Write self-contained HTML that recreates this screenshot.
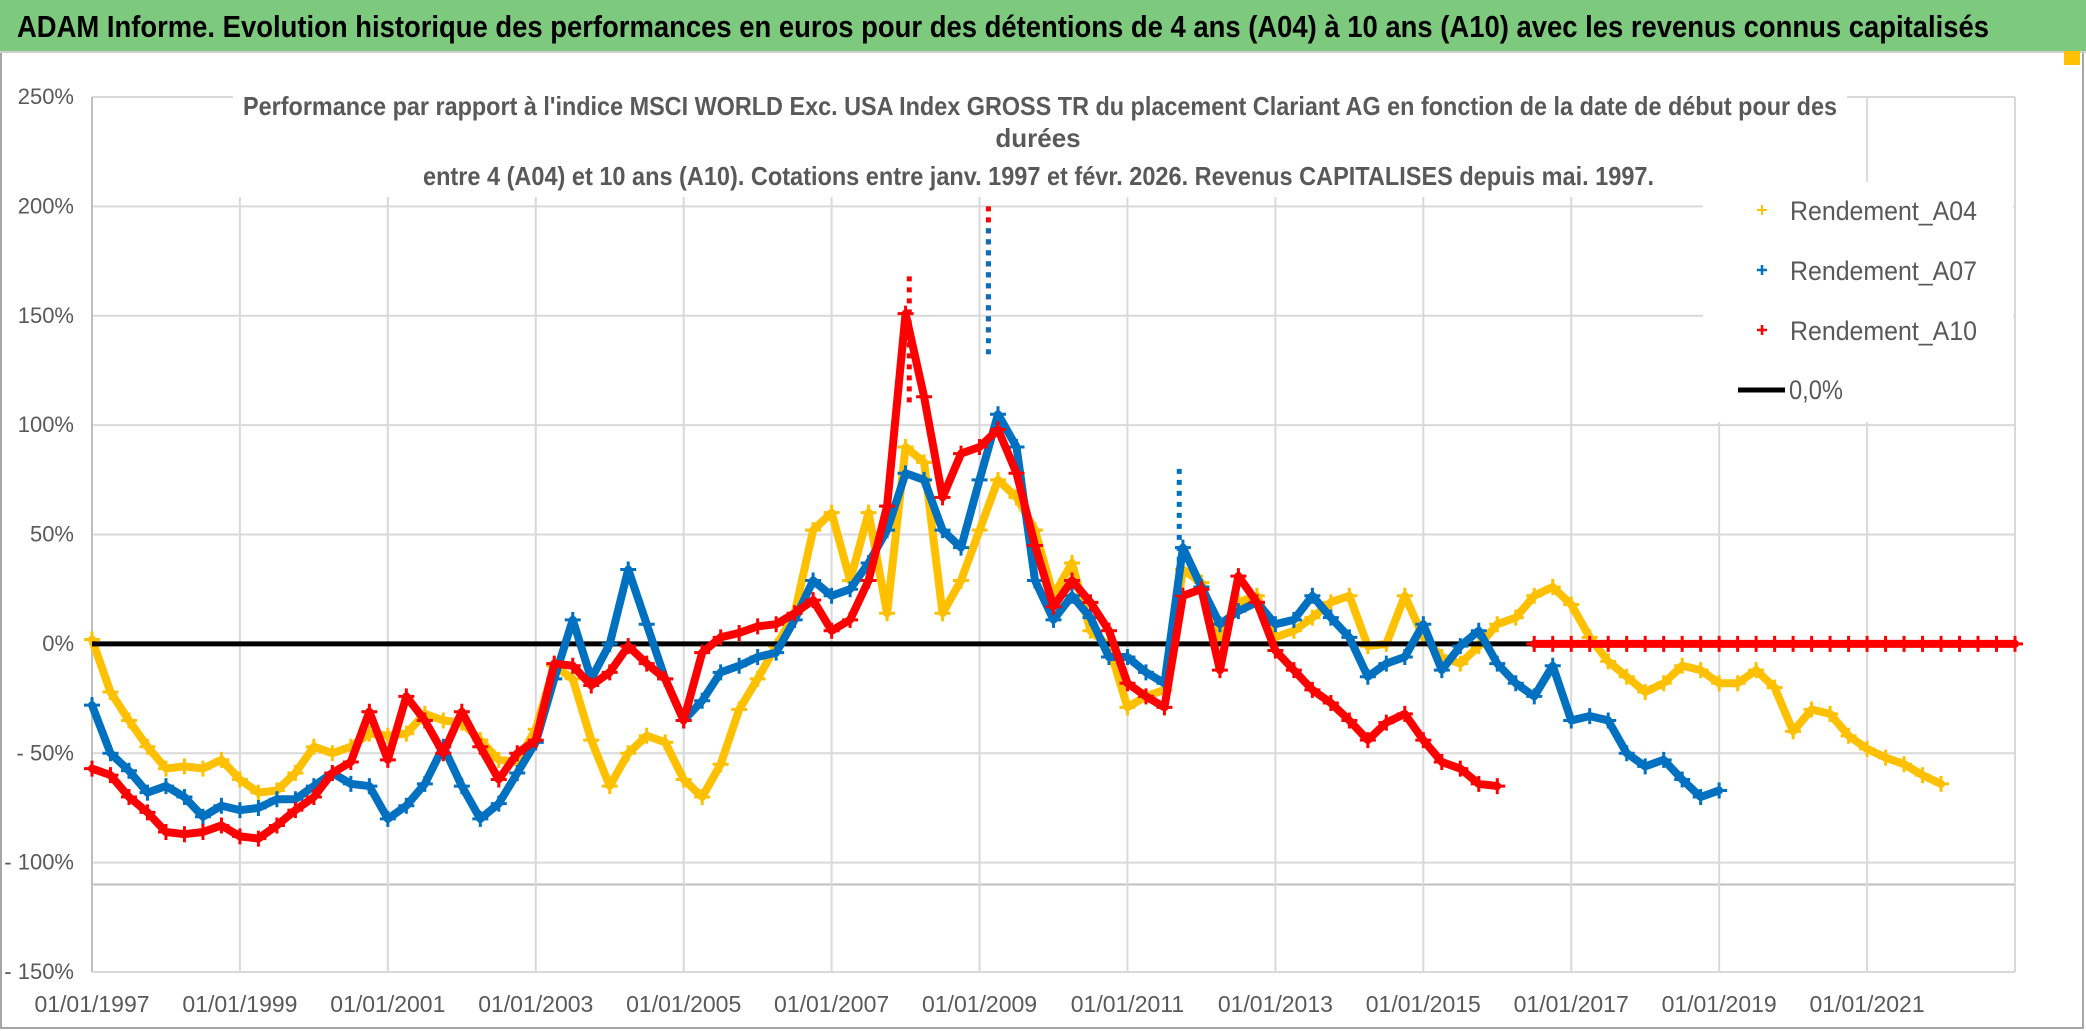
<!DOCTYPE html>
<html><head><meta charset="utf-8"><style>
html,body{margin:0;padding:0;background:#fff;}
svg{display:block;}
text{font-family:"Liberation Sans Narrow","Liberation Sans",sans-serif;}
</style></head><body>
<svg id="chart" width="2086" height="1031" viewBox="0 0 2086 1031">
<rect x="0" y="0" width="2086" height="1031" fill="#fff"/>
<rect x="1" y="1" width="2082" height="1027" fill="none" stroke="#a6a6a6" stroke-width="2"/>
<rect x="0" y="0" width="2086" height="51" fill="#7DC97D"/>
<line x1="0" y1="52" x2="2086" y2="52" stroke="#d0d0d0" stroke-width="2"/>
<rect x="2064" y="51" width="16" height="14" fill="#FFC000"/>
<text x="17" y="37" font-size="31" font-weight="bold" fill="#000" textLength="1972" lengthAdjust="spacingAndGlyphs">ADAM Informe. Evolution historique des performances en euros pour des détentions de 4 ans (A04) à 10 ans (A10) avec les revenus connus capitalisés</text>
<g id="grid"></g>
<g id="yaxis"></g>
<g id="xaxis"></g>
<g id="plot"></g>
<rect x="233" y="90" width="1614" height="107" fill="#fff"/>
<rect x="1703" y="182" width="310" height="240" fill="#fff"/>
<g fill="#595959" font-size="26" font-weight="bold">
<text x="243" y="115" textLength="1594" lengthAdjust="spacingAndGlyphs">Performance par rapport à l'indice MSCI WORLD Exc. USA Index GROSS TR  du placement Clariant AG en fonction de la date de début pour des</text>
<text x="1038" y="147" text-anchor="middle">durées</text>
<text x="423" y="185" textLength="1231" lengthAdjust="spacingAndGlyphs">entre 4 (A04) et 10 ans (A10). Cotations entre janv. 1997 et févr. 2026. Revenus CAPITALISES depuis mai. 1997.</text>
</g>
<g font-size="27" fill="#595959">
<g><path d="M1757 210h10M1762 205v10" stroke="#FFC000" stroke-width="2"/><text x="1790" y="220" textLength="187" lengthAdjust="spacingAndGlyphs">Rendement_A04</text></g>
<g><path d="M1757 270h10M1762 265v10" stroke="#0070C0" stroke-width="2.5"/><text x="1790" y="280" textLength="187" lengthAdjust="spacingAndGlyphs">Rendement_A07</text></g>
<g><path d="M1757 330h10M1762 325v10" stroke="#FF0000" stroke-width="2.5"/><text x="1790" y="340" textLength="187" lengthAdjust="spacingAndGlyphs">Rendement_A10</text></g>
<g><line x1="1738" y1="390" x2="1785" y2="390" stroke="#000" stroke-width="5"/><text x="1789" y="399" textLength="54" lengthAdjust="spacingAndGlyphs">0,0%</text></g>
</g>
</svg>
<script>
// Data: quarterly values (%) starting 1997.0, step 0.25 year
const startYear = 1997;
const stepYear = 0.25;
const a04 = [2,-22,-35,-47, -57,-56,-57,-53, -62,-68,-67,-59, -47,-50,-47,-41, -42,-41,-32,-35, -36,-44,-53,-54, -39,-10,-16,-44, -65,-50,-42,-45, -62,-70,-55,-30, -16,-1,14,52, 60,29,60,14, 90,83,14,29, 52,75,67,52, 22,37,6,-1, -29,-24,-21,34, 28,3,19,22, 3,6,12,19, 22,-1,0,22, 3,-6,-9,-1, 9,12,22,26, 18,3,-8,-15, -22,-18,-10,-12, -18,-18,-12,-20, -40,-30,-32,-42, -48,-52,-55,-60, -64];
const a07 = [-28,-50,-58,-68, -65,-70,-79,-74, -76,-75,-71,-71, -65,-59,-64,-65, -80,-74,-64,-47, -65,-80,-73,-59, -45,-16,11,-16, 0,34,9,-16, -35,-26,-13,-10, -6,-4,11,29, 22,25,37,52, 78,75,52,44, 75,105,90,29, 11,22,12,-6, -6,-13,-18,44, 26,9,15,19, 9,11,22,12, 3,-15,-9,-6, 9,-12,-1,6, -9,-18,-24,-10, -35,-33,-35,-50, -56,-53,-62,-70, -67];
const a10 = [-57,-60,-70,-77, -86,-87,-86,-83, -88,-89,-83,-76, -70,-59,-54,-31, -53,-24,-35,-50, -31,-47,-62,-50, -44,-9,-10,-19, -13,-1,-9,-16, -35,-4,3,5, 8,9,14,20, 6,11,29,63, 151,113,67,87, 90,98,78,45, 17,29,19,6, -18,-24,-29,22, 25,-12,31,19, -3,-12,-21,-27, -35,-44,-36,-32, -44,-54,-57,-64, -65,null,0,0, 0,0,0,0, 0,0,0,0, 0,0,0,0, 0,0,0,0, 0,0,0,0, 0,0,0,0, 0];
// Isolated spike points
const spikeYears = [2008.05, 2009.12, 2009.12, 2011.7];
const spikeValues = [168, 200, 190, 80];
const spikeSeries = ['a10','a10','a07','a07'];
const yTicks = [250,200,150,100,50,0,-50,-100,-150];
const yTickLabels = ['250%','200%','150%','100%','50%','0%','- 50%','- 100%','- 150%'];
const xTickYears = [1997,1999,2001,2003,2005,2007,2009,2011,2013,2015,2017,2019,2021];
const xTickLabels = ['01/01/1997','01/01/1999','01/01/2001','01/01/2003','01/01/2005','01/01/2007','01/01/2009','01/01/2011','01/01/2013','01/01/2015','01/01/2017','01/01/2019','01/01/2021'];

const NS='http://www.w3.org/2000/svg';
const X0=92, X1=2015, Y0=97, Y1=972;
const xMin=1997, xMax=2023, yMin=-150, yMax=250;
function xs(y){return X0+(y-xMin)/(xMax-xMin)*(X1-X0);}
function ys(v){return Y1-(v-yMin)/(yMax-yMin)*(Y1-Y0);}
function mk(tag,attrs,parent){const e=document.createElementNS(NS,tag);for(const k in attrs)e.setAttribute(k,attrs[k]);parent.appendChild(e);return e;}
const grid=document.getElementById('grid'),ya=document.getElementById('yaxis'),xa=document.getElementById('xaxis'),plot=document.getElementById('plot');

yTicks.forEach((v,i)=>{
  const l=mk('line',{x1:X0,x2:X1,y1:ys(v),y2:ys(v),stroke:'#d9d9d9','stroke-width':2},grid);
  
  
  const t=mk('text',{x:74,y:ys(v)+7,'text-anchor':'end','font-size':22,fill:'#595959'},ya);
  t.textContent=yTickLabels[i];
  
  
});
const ref=mk('line',{x1:X0,x2:X1,y1:ys(-110),y2:ys(-110),stroke:'#bfbfbf','stroke-width':2},grid);


xTickYears.forEach((yr,i)=>{
  const l=mk('line',{x1:xs(yr),x2:xs(yr),y1:Y0,y2:Y1,stroke:i==0?'#bfbfbf':'#d9d9d9','stroke-width':2},grid);
  
  
  const t=mk('text',{x:xs(yr),y:1012,'text-anchor':'middle','font-size':23,fill:'#595959'},xa);
  t.textContent=xTickLabels[i];
  
  
});
const rl=mk('line',{x1:X1,x2:X1,y1:Y0,y2:Y1,stroke:'#d9d9d9','stroke-width':2},grid);



function drawSeries(arr,color,name,sw){
  const g=mk('g',{},plot);
  
  
  let segs=[],cur=[];
  arr.forEach((v,i)=>{
    if(v===null){if(cur.length)segs.push(cur);cur=[];return;}
    cur.push([xs(startYear+i*stepYear),ys(v)]);
  });
  if(cur.length)segs.push(cur);
  segs.forEach(s=>{
    const p=mk('polyline',{points:s.map(q=>q.join(',')).join(' '),fill:'none',stroke:color,'stroke-width':sw,'stroke-linejoin':'round','stroke-linecap':'round'},g);
    
    
    s.forEach(q=>{
      const c=mk('path',{d:`M${q[0]-8} ${q[1]}h16M${q[0]} ${q[1]-8}v16`,stroke:color,'stroke-width':3},g);
      
      
    });
  });
  return g;
}
drawSeries(a04,'#FFC000','a04',8);
const zero=mk('line',{x1:X0,x2:X1,y1:ys(0),y2:ys(0),stroke:'#000','stroke-width':5},plot);


drawSeries(a07,'#0070C0','a07',8);
drawSeries(a10,'#FF0000','a10',8);
const colors={a07:'#0070C0',a10:'#FF0000'};
spikeYears.forEach((yr,i)=>{
  const x=xs(yr),y=ys(spikeValues[i]),y2=ys(spikeValues[i]-60);
  const l=mk('line',{x1:x,x2:x,y1:y,y2:y2,stroke:colors[spikeSeries[i]],'stroke-width':5,'stroke-dasharray':'5 6'},plot);
  
  
});
</script>
</body></html>
